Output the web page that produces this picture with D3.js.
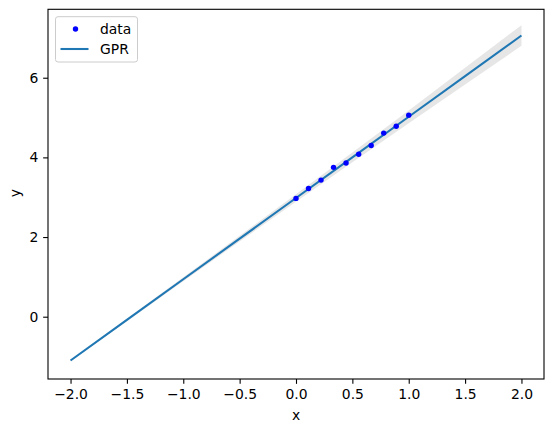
<!DOCTYPE html>
<html>
<head>
<meta charset="UTF-8">
<script src="https://d3js.org/d3.v7.min.js"></script>
<style>
  body { margin: 0; background: #fff; }
  text { font-family: "DejaVu Sans", sans-serif; }
</style>
</head>
<body>
<svg id="chart" width="554" height="432"></svg>
<script>
// observed points
var dataX = [0, 0.111, 0.222, 0.333, 0.444, 0.556, 0.667, 0.778, 0.889, 1.0];
var dataY = [2.97, 3.22, 3.43, 3.75, 3.86, 4.08, 4.30, 4.61, 4.78, 5.06];

// GPR prediction read at half steps
var predX = [-2.0, -1.5, -1.0, -0.5, 0.0, 0.5, 1.0, 1.5, 2.0];
var predMean = [-1.10, -0.08, 0.94, 1.96, 2.98, 4.00, 5.02, 6.04, 7.06];
var predBand = [0.02, 0.035, 0.05, 0.07, 0.095, 0.12, 0.16, 0.21, 0.26];

var xTicks = [-2.0, -1.5, -1.0, -0.5, 0.0, 0.5, 1.0, 1.5, 2.0];
var yTicks = [0, 2, 4, 6];

var svg = d3.select("#chart");
var margin = { top: 9.3, right: 10, bottom: 53, left: 48 };
var width = 554, height = 432;

var x = d3.scaleLinear().domain([-2.2, 2.2]).range([margin.left, width - margin.right]);
var y = d3.scaleLinear().domain([-1.564, 7.718]).range([height - margin.bottom, margin.top]);

var pred = predX.map(function(d, i) { return { x: d, m: predMean[i], s: predBand[i] }; });

// confidence band
svg.append("path")
  .datum(pred)
  .attr("fill", "grey")
  .attr("fill-opacity", 0.2)
  .attr("d", d3.area()
    .x(function(d) { return x(d.x); })
    .y0(function(d) { return y(d.m - d.s); })
    .y1(function(d) { return y(d.m + d.s); }));

// mean line
svg.append("path")
  .datum(pred)
  .attr("fill", "none")
  .attr("stroke", "#1f77b4")
  .attr("stroke-width", 2.08)
  .attr("d", d3.line().x(function(d) { return x(d.x); }).y(function(d) { return y(d.m); }));

// data points
svg.selectAll("circle.pt")
  .data(dataX)
  .enter().append("circle")
  .attr("class", "pt")
  .attr("cx", function(d) { return x(d); })
  .attr("cy", function(d, i) { return y(dataY[i]); })
  .attr("r", 2.7)
  .attr("fill", "#0000ff");

// axes
var bottomAxis = d3.axisBottom(x).tickValues(xTicks).tickSizeOuter(0).tickSize(4.86).tickPadding(4.86)
  .tickFormat(function(d) { return d3.format(".1f")(d).replace("-", "\u2212"); });
var leftAxis = d3.axisLeft(y).tickValues(yTicks).tickSizeOuter(0).tickSize(4.86).tickPadding(4.86)
  .tickFormat(d3.format("d"));

var gx = svg.append("g").attr("transform", "translate(0," + (height - margin.bottom) + ")").call(bottomAxis);
var gy = svg.append("g").attr("transform", "translate(" + margin.left + ",0)").call(leftAxis);
[gx, gy].forEach(function(g) {
  g.select(".domain").remove();
  g.selectAll("line").attr("stroke", "#000").attr("stroke-width", 1.1);
  g.selectAll("text").attr("fill", "#000").style("font-size", "13.9px").style("font-family", "DejaVu Sans");
});

// frame
svg.append("rect")
  .attr("x", margin.left).attr("y", margin.top)
  .attr("width", width - margin.right - margin.left)
  .attr("height", height - margin.bottom - margin.top)
  .attr("fill", "none").attr("stroke", "#000").attr("stroke-width", 1.1);

// axis labels
svg.append("text").attr("x", x(0)).attr("y", 420).attr("text-anchor", "middle")
  .style("font-size", "13.9px").text("x");
svg.append("text").attr("transform", "translate(20," + y(3.1) + ") rotate(-90)")
  .attr("text-anchor", "middle").style("font-size", "13.9px").text("y");

// legend
var lg = svg.append("g");
lg.append("rect").attr("x", 55.5).attr("y", 16.7).attr("width", 82).attr("height", 45.3).attr("rx", 2.5)
  .attr("fill", "#fff").attr("fill-opacity", 0.8).attr("stroke", "#ccc").attr("stroke-width", 1);
lg.append("circle").attr("cx", 75.5).attr("cy", 29).attr("r", 2.7).attr("fill", "#0000ff");
lg.append("text").attr("x", 100).attr("y", 34).style("font-size", "13.9px").text("data");
lg.append("line").attr("x1", 60.5).attr("x2", 88.5).attr("y1", 49).attr("y2", 49)
  .attr("stroke", "#1f77b4").attr("stroke-width", 2.08);
lg.append("text").attr("x", 100).attr("y", 54).style("font-size", "13.9px").text("GPR");
</script>
</body>
</html>
